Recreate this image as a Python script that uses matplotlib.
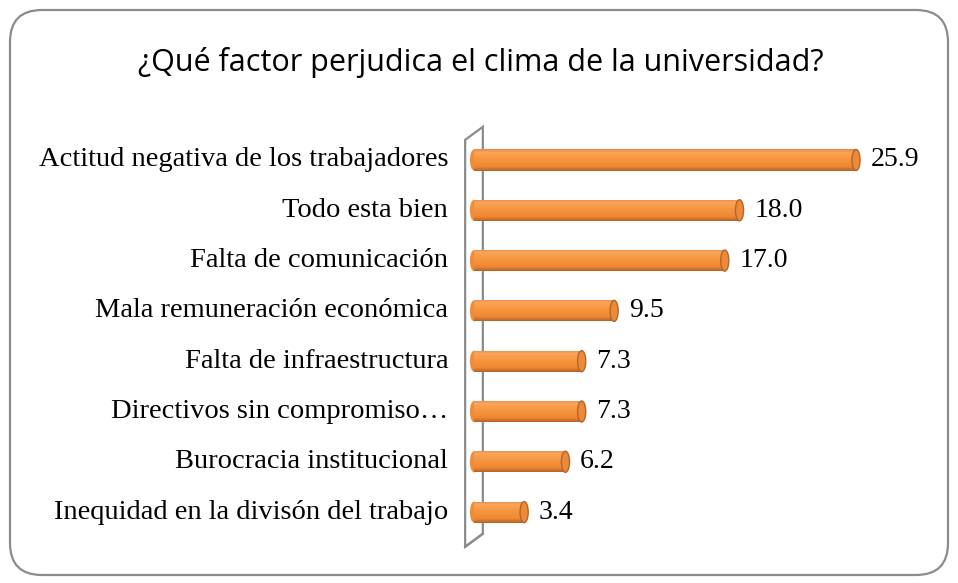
import numpy as np
import matplotlib
matplotlib.use('Agg')
import matplotlib.pyplot as plt
from matplotlib.patches import FancyBboxPatch, Ellipse, Polygon
from matplotlib.colors import LinearSegmentedColormap

title = '¿Qué factor perjudica el clima de la universidad?'
categories = ['Actitud negativa de los trabajadores', 'Todo esta bien',
              'Falta de comunicación', 'Mala remuneración económica',
              'Falta de infraestructura', 'Directivos sin compromiso…',
              'Burocracia institucional', 'Inequidad en la divisón del trabajo']
values = [25.9, 18.0, 17.0, 9.5, 7.3, 7.3, 6.2, 3.4]

W, H = 958, 583
fig = plt.figure(figsize=(W / 100, H / 100), dpi=100)

# background / frame in pixel coords
bg = fig.add_axes([0, 0, 1, 1])
bg.set_xlim(0, W)
bg.set_ylim(H, 0)
bg.axis('off')
bg.add_patch(FancyBboxPatch((10, 10), 938, 565,
                            boxstyle='round,pad=0,rounding_size=32',
                            fc='white', ec='#8c8c8c', lw=1.6))
bg.text(W / 2 + 2, 63, title, ha='center', va='center',
        fontsize=22, family='Open Sans', color='black')

# chart area: x=0 at px 474, 14.75 px per unit; rows 50.3 px apart, first at px 160
px_unit = 14.75
xmax = 30
row = 50.3
left_px, top_px = 474, 160 - row / 2
ax = fig.add_axes([left_px / W, 1 - (top_px + 8 * row) / H,
                   xmax * px_unit / W, 8 * row / H])
ax.set_xlim(0, xmax)
ax.set_ylim(7.5, -0.5)
ax.axis('off')

# 3D wall on the left
wx0, wx1 = -0.6, 0.6
wall = Polygon([(wx0, -0.40), (wx1, -0.66), (wx1, 7.43), (wx0, 7.69)],
               closed=True, fc='white', ec='#8c8c8c', lw=1.6, clip_on=False, zorder=1)
ax.add_patch(wall)
ax.plot([wx1, wx0], [7.43, 7.69], color='#8c8c8c', lw=1.6, clip_on=False, zorder=1)

# bars with cylinder shading
y = np.arange(len(values))
bh = 0.42
cmap = LinearSegmentedColormap.from_list(
    'cyl', [(0, '#e58a45'), (0.15, '#f9a45c'), (0.45, '#f7963f'),
            (0.8, '#ee8833'), (1, '#b5612a')])
grad = np.linspace(0, 1, 128).reshape(-1, 1)
cap_w = 0.55
bars = ax.barh(y, values, height=bh, color='#f79646', lw=0, zorder=3)
for b, v, yi in zip(bars, values, y):
    ax.add_patch(Ellipse((0, yi), cap_w, bh, fc='#f08c38', ec='none', zorder=2.5,
                         clip_on=False))
    im = ax.imshow(grad, cmap=cmap, aspect='auto', zorder=3.5,
                   interpolation='bilinear',
                   extent=(0, v, yi + bh / 2, yi - bh / 2))
    im.set_clip_path(b)
    ax.add_patch(Ellipse((v, yi), cap_w, bh, fc='#ec8a38', ec='#b3652d', lw=1.0,
                         zorder=4))
    ax.text(v + 1.0, yi, f'{v:.1f}', ha='left', va='center', fontsize=20,
            family='Liberation Serif', color='black')
    ax.text(-1.75, yi, categories[int(yi)], ha='right', va='center', fontsize=20.5,
            family='Liberation Serif', color='black', clip_on=False)

fig.savefig('out.png', dpi=100)
